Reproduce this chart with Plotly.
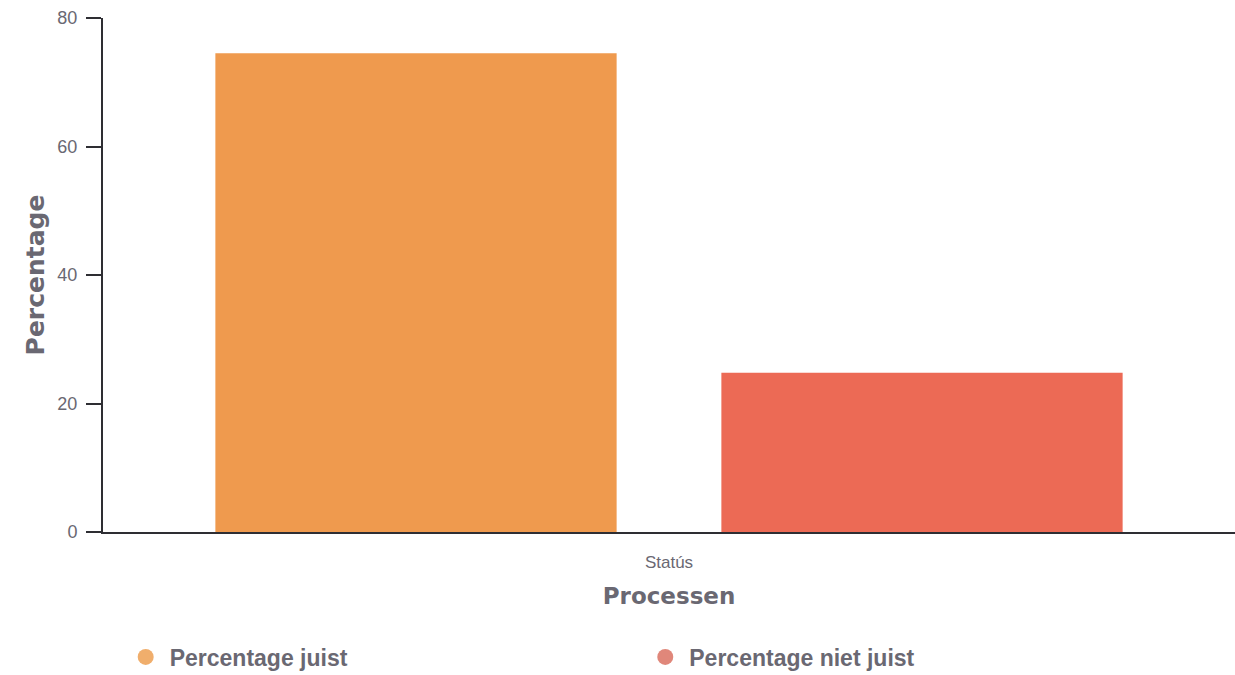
import plotly.graph_objects as go

categories = ["Statús"]
series_names = ["Percentage juist", "Percentage niet juist"]
series_values = [[74.5], [24.8]]
bar_colors = ["#EF9A4E", "#EC6A55"]
legend_colors = ["#F0AE6C", "#E0877A"]
y_ticks = [0, 20, 40, 60, 80]

fig = go.Figure()
for name, vals, col in zip(series_names, series_values, bar_colors):
    fig.add_trace(go.Bar(x=categories, y=vals, name=name, marker=dict(color=col, line=dict(width=0)),
                         showlegend=False))
legend_ids = ["legend", "legend2"]
for name, col, lid in zip(series_names, legend_colors, legend_ids):
    fig.add_trace(go.Scatter(x=[None], y=[None], mode="markers", name=name, legend=lid,
                             marker=dict(symbol="circle", size=21, color=col)))

text_col = "#6a6872"
leg_font = dict(family="Liberation Sans, Arial", size=23, color=text_col, weight="bold")
fig.update_layout(
    width=1235, height=675,
    margin=dict(l=103, r=0, t=18, b=143),
    paper_bgcolor="white", plot_bgcolor="white",
    barmode="group", bargap=0.106, bargroupgap=0.207,
    showlegend=True,
    legend=dict(orientation="h", x=0.0165, xanchor="left", yref="container", y=0.0267, yanchor="middle",
                itemsizing="trace", itemwidth=38, font=leg_font, bgcolor="rgba(0,0,0,0)"),
    legend2=dict(orientation="h", x=0.4755, xanchor="left", yref="container", y=0.0267, yanchor="middle",
                 itemsizing="trace", itemwidth=38, font=leg_font, bgcolor="rgba(0,0,0,0)"),
    xaxis=dict(showline=True, linecolor="#2e2e33", linewidth=2, ticks="", showgrid=False,
               automargin=False, ticklabelstandoff=14,
               tickfont=dict(family="Liberation Sans, Arial", size=17, color=text_col),
               title=dict(text="Processen", standoff=16,
                          font=dict(family="DejaVu Sans, Verdana", size=23, color=text_col, weight="bold"))),
    yaxis=dict(range=[0, 80], tickvals=y_ticks, showline=True, linecolor="#2e2e33", linewidth=2,
               ticks="outside", ticklen=15, tickwidth=2, tickcolor="#2e2e33", showgrid=False, zeroline=False,
               automargin=False, ticklabelstandoff=5,
               tickfont=dict(family="Liberation Sans, Arial", size=18, color=text_col),
               title=dict(text="Percentage", standoff=6,
                          font=dict(family="DejaVu Sans, Verdana", size=25, color=text_col, weight="bold"))),
)
fig.write_html("out.html", config={"displayModeBar": False},
               post_script="document.body.style.margin='0';document.body.style.overflow='hidden';")
